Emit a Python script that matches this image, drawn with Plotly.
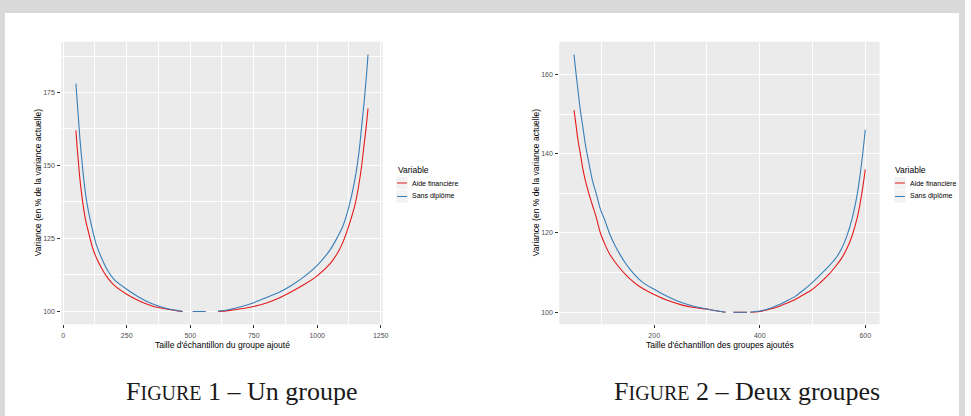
import plotly.graph_objects as go

# ---------------- data ----------------
# Figure 1 : un groupe
x1 = [50, 55, 60, 65, 70, 80, 90, 100, 115, 130, 150, 175, 200, 250, 300, 350, 400, 450, 470,
      490, 510, 560, 585, 610, 650, 700, 750, 800, 850, 900, 950, 1000, 1050, 1080, 1100,
      1125, 1150, 1165, 1175, 1185, 1190, 1195, 1200]
aide1 = [162, 156, 151, 146, 142, 135.5, 130.5, 127, 122, 118.5, 115, 111.5, 109, 105.9, 103.6,
         101.9, 100.9, 100.2, 100, None, 100, 100, None, 100, 100.3, 100.9, 101.7, 102.9, 104.6,
         106.8, 109.3, 112.2, 116.3, 120, 123.5, 129.5, 137, 144, 150, 157.5, 161, 165, 169.5]
sans1 = [178, 172, 166, 160, 155, 146, 139, 134, 128, 123, 118.5, 114, 111, 107.6, 104.8,
         102.6, 101.2, 100.3, 100, None, 100, 100, None, 100.1, 100.6, 101.6, 103, 104.8, 106.6,
         109, 112, 115.8, 121, 125.5, 129, 136, 146, 155, 163.5, 172, 177, 182, 188]

# Figure 2 : deux groupes
x2 = [48, 52, 56, 60, 65, 70, 75, 83, 90, 98, 107, 115, 125, 135, 145, 155, 170, 185, 200,
      225, 253, 275, 300, 320, 335, 343, 350, 376, 379, 382, 400, 420, 435, 450, 467, 480,
      498, 515, 530, 545, 555, 565, 575, 585, 590, 595, 600]
aide2 = [151, 147, 143, 140, 136, 133, 130.5, 127, 124, 120, 117, 114.8, 112.8, 111.1, 109.6,
         108.3, 106.7, 105.5, 104.5, 103, 101.8, 101.2, 100.8, 100.3, 100, None, 100, 100, None,
         100, 100.2, 100.8, 101.4, 102.2, 103.2, 104.2, 105.6, 107.5, 109.4, 111.8, 113.6, 116,
         119.3, 124, 127.3, 131.3, 136]
sans2 = [165, 160, 155.5, 151, 146.5, 142, 138.5, 133.2, 130, 126, 123, 120, 117, 114.6, 112.5,
         110.7, 108.5, 106.9, 105.8, 104, 102.4, 101.5, 100.8, 100.3, 100, None, 100, 100, None,
         100, 100.3, 101, 101.8, 102.8, 104, 105.3, 107.3, 109.5, 111.5, 113.8, 116, 119.2,
         123.6, 130, 134.5, 139.8, 146]

series_names = ["Aide financière", "Sans diplôme"]
legend_title = "Variable"

x1_ticks = [0, 250, 500, 750, 1000, 1250]
x1_minor = [125, 375, 625, 875, 1125]
y1_ticks = [100, 125, 150, 175]
y1_minor = [112.5, 137.5, 162.5, 187.5]
x2_ticks = [200, 400, 600]
x2_minor = [100, 300, 500]
y2_ticks = [100, 120, 140, 160]
y2_minor = [110, 130, 150]

y_title = "Variance (en % de la variance actuelle)"
x1_title = "Taille d'échantillon du groupe ajouté"
x2_title = "Taille d'échantillon des groupes ajoutés"
caption1 = ("1", "Un groupe")
caption2 = ("2", "Deux groupes")

# ---------------- style ----------------
W, H = 971, 416
RED = "#E41A1C"
BLUE = "#377EB8"
PANEL = "#EBEBEB"
SANS = "Liberation Sans, Arial, sans-serif"
SERIF = "Liberation Serif, DejaVu Serif, serif"


def px(xp):
    return xp / W


def py(yp):
    return 1 - yp / H


fig = go.Figure()
for xs, ys, col, name, xa, ya in [
    (x1, aide1, RED, series_names[0], "x", "y"),
    (x1, sans1, BLUE, series_names[1], "x", "y"),
    (x2, aide2, RED, series_names[0], "x2", "y2"),
    (x2, sans2, BLUE, series_names[1], "x2", "y2"),
]:
    fig.add_trace(go.Scatter(x=xs, y=ys, mode="lines", name=name, xaxis=xa, yaxis=ya,
                             line=dict(color=col, width=1.1, shape="spline", smoothing=0.8),
                             connectgaps=False, showlegend=False, hoverinfo="skip"))


def axis(domain, rng, ticks, minor):
    return dict(domain=domain, range=rng, tickmode="array", tickvals=ticks,
                ticktext=[str(t) for t in ticks], showgrid=True, gridcolor="white",
                gridwidth=1.1, zeroline=False, showline=False, ticks="outside", ticklen=3,
                tickwidth=1, tickcolor="#333333", ticklabelstandoff=1,
                tickfont=dict(family=SANS, size=7, color="#4D4D4D"),
                minor=dict(tickmode="array", tickvals=minor, showgrid=True,
                           gridcolor="white", gridwidth=0.5, ticks=""))


ydom = [py(324.3), py(41.7)]
fig.update_layout(
    width=W, height=H, margin=dict(l=0, r=0, t=0, b=0),
    paper_bgcolor="white", plot_bgcolor=PANEL, showlegend=False,
    xaxis=dict(**axis([px(61.7), px(385)], [-7.5, 1257.5], x1_ticks, x1_minor), anchor="y"),
    yaxis=dict(**axis(ydom, [95.6, 192.4], y1_ticks, y1_minor), anchor="x"),
    xaxis2=dict(**axis([px(562.7), px(885)], [20, 627], x2_ticks, x2_minor), anchor="y2"),
    yaxis2=dict(**axis(ydom, [96.96, 168.25], y2_ticks, y2_minor), anchor="x2"),
)

shapes = []
# page frame
GRAY = "#D9D9D9"
shapes.append(dict(type="rect", xref="paper", yref="paper", x0=0, x1=1, y0=py(13), y1=1,
                   fillcolor=GRAY, line_width=0, layer="above"))
shapes.append(dict(type="rect", xref="paper", yref="paper", x0=0, x1=px(5), y0=0, y1=1,
                   fillcolor=GRAY, line_width=0, layer="above"))
shapes.append(dict(type="rect", xref="paper", yref="paper", x0=px(965), x1=1, y0=0, y1=1,
                   fillcolor=GRAY, line_width=0, layer="above"))

annotations = []
for off, cap_x, xt, cap in [(0, 243.5, x1_title, caption1), (501, 751.5, x2_title, caption2)]:
    # axis titles
    annotations.append(dict(text=xt, x=px(223.4 + off), y=py(344.5), xref="paper", yref="paper",
                            showarrow=False, xanchor="center", yanchor="middle",
                            font=dict(family=SANS, size=8.5, color="black")))
    annotations.append(dict(text=y_title, x=px(38.5 + off), y=py(183), xref="paper",
                            yref="paper", showarrow=False, textangle=-90, xanchor="center",
                            yanchor="middle", font=dict(family=SANS, size=8.5, color="black")))
    # legend
    annotations.append(dict(text=legend_title, x=px(398 + off), y=py(169.5), xref="paper",
                            yref="paper", showarrow=False, xanchor="left", yanchor="middle",
                            font=dict(family=SANS, size=8.5, color="black")))
    for i, (nm, col) in enumerate(zip(series_names, [RED, BLUE])):
        yc = 183 + i * 13.5
        shapes.append(dict(type="rect", xref="paper", yref="paper", x0=px(398.5 + off),
                           x1=px(410.5 + off), y0=py(yc + 6.5), y1=py(yc - 6.5),
                           fillcolor="#F2F2F2", line=dict(color="white", width=0.6)))
        shapes.append(dict(type="line", xref="paper", yref="paper", x0=px(399.5 + off),
                           x1=px(409.5 + off), y0=py(yc), y1=py(yc),
                           line=dict(color=col, width=1)))
        annotations.append(dict(text=nm, x=px(412.5 + off), y=py(yc), xref="paper",
                                yref="paper", showarrow=False, xanchor="left", yanchor="middle",
                                font=dict(family=SANS, size=7, color="black")))
    # caption
    num, words = cap
    annotations.append(dict(
        text=f'F<span style="font-size:20px">IGURE</span> {num} – {words}',
        x=px(cap_x), y=py(391), xref="paper", yref="paper", showarrow=False,
        xanchor="center", yanchor="middle", font=dict(family=SERIF, size=26, color="#1A1A1A")))

fig.update_layout(shapes=shapes, annotations=annotations)
fig.write_html(
    "out.html",
    config={"displayModeBar": False},
    post_script="document.body.style.margin='0';document.body.style.overflow='hidden';",
)
